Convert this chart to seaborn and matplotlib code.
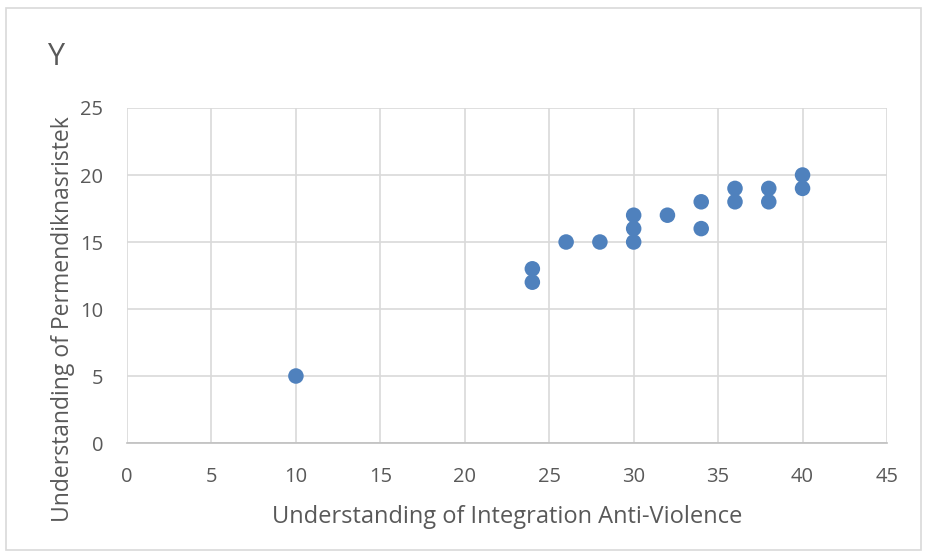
import matplotlib
matplotlib.use("Agg")
import matplotlib.pyplot as plt
import seaborn as sns
import pandas as pd
from matplotlib.patches import Rectangle

# Data
x_vals = [10, 24, 24, 26, 28, 30, 30, 30, 32, 34, 34, 36, 36, 38, 38, 40, 40]
y_vals = [5, 13, 12, 15, 15, 17, 16, 15, 17, 18, 16, 19, 18, 19, 18, 20, 19]
x_ticks = [0, 5, 10, 15, 20, 25, 30, 35, 40, 45]
y_ticks = [0, 5, 10, 15, 20, 25]

df = pd.DataFrame({"x": x_vals, "y": y_vals})

sns.set_theme(style="white")
plt.rcParams["font.family"] = ["Open Sans", "DejaVu Sans"]

text_color = "#595959"
grid_color = "#d9d9d9"

fig = plt.figure(figsize=(9.28, 5.59), dpi=100)
ax = fig.add_axes([0.1369, 0.2075, 0.8189, 0.5993])

sns.scatterplot(data=df, x="x", y="y", ax=ax, color="#4f81bd", s=125,
                edgecolor="none", zorder=3, clip_on=False)

ax.set_xlim(0, 45)
ax.set_ylim(0, 25)
ax.set_xticks(x_ticks)
ax.set_yticks(y_ticks)
ax.grid(True, color=grid_color, linewidth=1.2)
ax.set_axisbelow(True)
for side in ["top", "right", "left"]:
    ax.spines[side].set_visible(False)
ax.spines["bottom"].set_color("#bfbfbf")
ax.spines["bottom"].set_linewidth(1.2)
ax.tick_params(axis="both", length=0, labelsize=14.5, colors=text_color, pad=17)

ax.set_xlabel("Understanding of Integration Anti-Violence", fontsize=17,
              color=text_color, labelpad=13)
ax.set_ylabel("Understanding of Permendiknasristek", fontsize=16.5,
              color=text_color, labelpad=4)
ax.yaxis.label.set_y(0.37)

fig.text(0.051, 0.898, "Y", fontsize=22, color=text_color, va="center")

# outer chart border
fig.patches.append(Rectangle((0.007, 0.016), 0.985, 0.97, transform=fig.transFigure,
                             fill=False, edgecolor="#d9d9d9", linewidth=1.2))

fig.savefig("out.png", dpi=100)
